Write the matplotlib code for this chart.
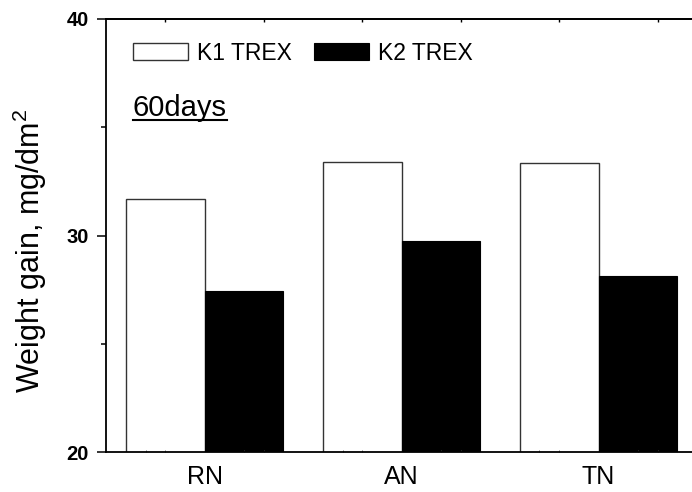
import numpy as np
import matplotlib
matplotlib.use("Agg")
import matplotlib.pyplot as plt
from matplotlib.lines import Line2D
from matplotlib.ticker import FixedLocator

plt.rcParams['font.family'] = ['Liberation Sans', 'DejaVu Sans']
plt.rcParams['mathtext.fontset'] = 'custom'
plt.rcParams['mathtext.rm'] = 'Liberation Sans'
plt.rcParams['mathtext.it'] = 'Liberation Sans'

# data
categories = ["RN", "AN", "TN"]
k1_trex = [31.7, 33.4, 33.35]
k2_trex = [27.45, 29.75, 28.15]
series_names = ["K1 TREX", "K2 TREX"]

fig = plt.figure(figsize=(6.92, 4.92), dpi=100)
W, H = 692.0, 492.0
x0, x1 = 106.2, 697.0
ytop, ybot = 19.0, 452.3
ax = fig.add_axes([x0 / W, (H - ybot) / H, (x1 - x0) / W, (ybot - ytop) / H])

x = np.arange(len(categories))
w = 0.4
ax.bar(x - w / 2, k1_trex, w, color="white", edgecolor="#333333",
       linewidth=1.0, label=series_names[0])
ax.bar(x + w / 2, k2_trex, w, color="black", edgecolor="black",
       linewidth=0.8, label=series_names[1])

ax.set_xlim(-0.5, 2.5)
ax.set_ylim(20, 40)

for s in ["left", "bottom", "top"]:
    ax.spines[s].set_linewidth(1.3)
ax.spines["right"].set_visible(False)

ax.set_yticks([20, 30, 40])
ax.set_yticks([25, 35], minor=True)
ax.tick_params(axis="y", which="major", direction="out", length=6.7, width=1.1,
               pad=6.0, labelsize=14.5)
ax.tick_params(axis="y", which="minor", direction="out", length=3.6, width=1.1)
for lbl in ax.get_yticklabels():
    lbl.set_fontweight("bold")

ax.set_xticks(x)
ax.set_xticklabels(categories)
ax.tick_params(axis="x", which="major", length=0, pad=9.5, labelsize=18)
ax.xaxis.set_minor_locator(FixedLocator(np.concatenate([np.arange(-0.3, 2.5, 0.5),
                                                        np.arange(-0.2, 2.5, 0.5)])))
ax.tick_params(axis="x", which="minor", direction="in", length=1.5, width=0.6, color="#555555")

top = ax.secondary_xaxis("top")
top.set_xticks(np.arange(-0.2, 2.5, 0.5))
top.tick_params(direction="in", length=1.8, width=1.0, labelsize=0, labeltop=False)
top.spines["top"].set_linewidth(1.3)

ax.set_ylabel("Weight gain, mg/dm$^{2}$", fontsize=22)
ax.yaxis.set_label_coords(-0.097, 0.466)

ax.legend(loc="upper left", bbox_to_anchor=((132.7 - x0) / (x1 - x0), (ybot - 41.5) / (ybot - ytop)),
          ncol=2, frameon=False, fontsize=16.5, handlelength=2.4, handleheight=0.8,
          handletextpad=0.4, columnspacing=0.95, borderpad=0, borderaxespad=0)

t = fig.text(133.0 / W, (H - 116.0) / H, "60days", fontsize=21, ha="left", va="baseline")
fig.canvas.draw()
bb = t.get_window_extent().transformed(fig.transFigure.inverted())
fig.add_artist(Line2D([bb.x0, bb.x1], [(H - 120.0) / H] * 2, color="black",
                      linewidth=1.5, transform=fig.transFigure))

fig.savefig("out.png", dpi=100)
